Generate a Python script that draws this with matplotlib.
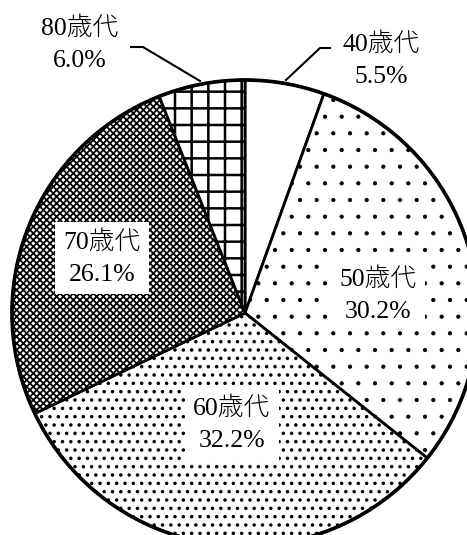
import matplotlib
matplotlib.use("Agg")
import matplotlib.pyplot as plt

plt.rcParams['font.family'] = ['Liberation Serif', 'Noto Sans CJK JP']
plt.rcParams['hatch.linewidth'] = 1.0
plt.rcParams['hatch.color'] = 'black'

# age groups and their shares (%)
ages = ['40歳代', '50歳代', '60歳代', '70歳代', '80歳代']
shares = [5.5, 30.2, 32.2, 26.1, 6.0]
hatches = ['', '.', '..', 'xxxxx', '+']
hatch_lw = [1.0, 0.6, 1.3, 1.3, 1.8]

W, H = 467, 535
cx, cy, r = 245, 535 - 313, 233

fig = plt.figure(figsize=(W / 100, H / 100), dpi=100)
ax = fig.add_axes([0, 0, 1, 1])

wedges, _ = ax.pie(shares, startangle=90, counterclock=False, radius=r,
                   center=(cx, cy), colors=['white'] * 5,
                   wedgeprops=dict(edgecolor='black', linewidth=2))
for w, h, lw in zip(wedges, hatches, hatch_lw):
    w.set_hatch(h)
    if hasattr(w, 'set_hatch_linewidth'):
        w.set_hatch_linewidth(lw)

outline = plt.Circle((cx, cy), r, fill=False, edgecolor='black', linewidth=2.6)
ax.add_patch(outline)

ax.set_xlim(0, W)
ax.set_ylim(0, H)
ax.set_aspect('equal')
ax.axis('off')

fs = 18.5
box = dict(facecolor='white', edgecolor='none', pad=6)

def label(x, y, i, bbox=None):
    ax.text(x, H - y, f"{ages[i]}\n{shares[i]:.1f}%", ha='center', va='center',
            fontsize=fs, fontweight='light', linespacing=1.55, bbox=bbox)

label(381, 60, 0)
label(378, 295, 1, box)
label(232, 424, 2, box)
label(102, 258, 3, box)
label(80, 44, 4)

# leader lines for the two small slices
ax.plot([286, 320, 330], [H - 80, H - 48, H - 48], color='black', lw=1.5)
ax.plot([131, 143, 200], [H - 47, H - 47, H - 81], color='black', lw=1.5)

fig.savefig('out.png', dpi=100)
